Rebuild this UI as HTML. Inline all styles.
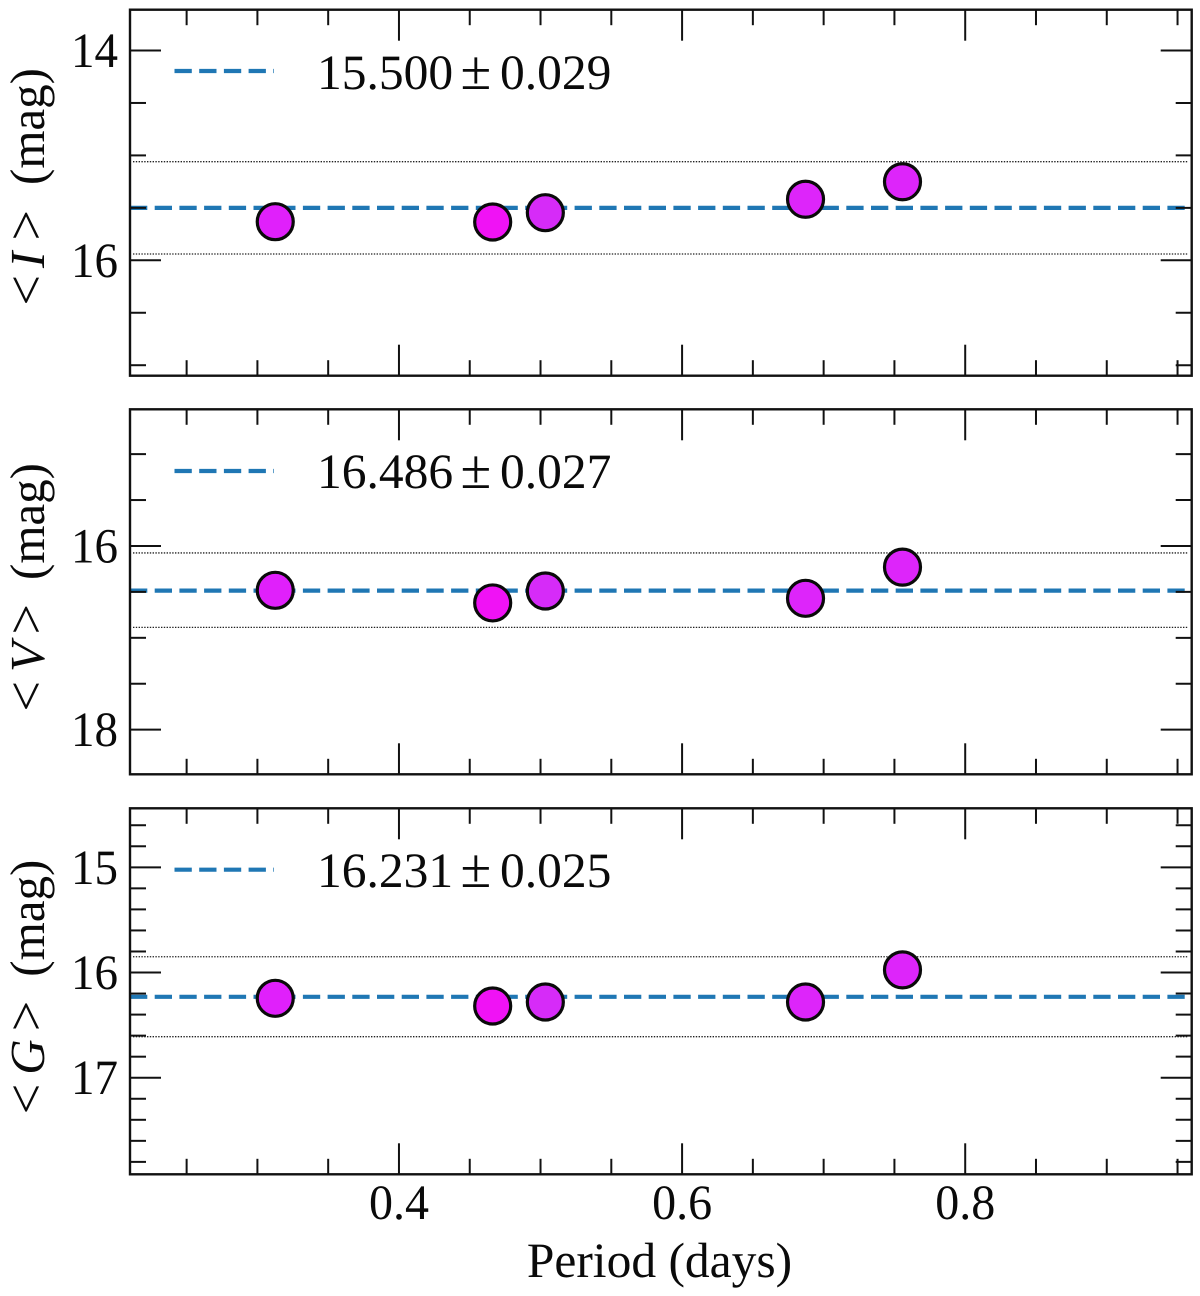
<!DOCTYPE html>
<html lang="en">
<head>
<meta charset="utf-8">
<title>Mean magnitude versus period</title>
<style>
html,body{margin:0;padding:0;background:#fff;width:1200px;height:1296px;overflow:hidden}
svg{display:block;filter:blur(0.35px)}
text{font-family:"Liberation Serif","Times New Roman",serif;fill:#0a0a0a;text-rendering:geometricPrecision}
</style>
</head>
<body>
<svg id="chart" xmlns="http://www.w3.org/2000/svg" width="1200" height="1296" viewBox="0 0 1200 1296"></svg>
<script>
// ---- Data ----
const periods = [0.3126, 0.4662, 0.5034, 0.6872, 0.7557];
const iMags = [15.632, 15.635, 15.546, 15.418, 15.251];
const vMags = [16.483, 16.62, 16.49, 16.57, 16.23];
const gMags = [16.245, 16.318, 16.28, 16.28, 15.975];
const iMean = 15.500, vMean = 16.486, gMean = 16.231;
const iErr = 0.029, vErr = 0.027, gErr = 0.025;
const iBand = [15.06, 15.94];
const vBand = [16.076, 16.886];
const gBand = [15.85, 16.61];
const iDomain = [13.611, 17.10];
const vDomain = [14.512, 18.486];
const gDomain = [14.439, 17.918];
const iMajorTicks = [14, 16];
const vMajorTicks = [16, 18];
const gMajorTicks = [15, 16, 17];
const iMinorTicks = [14.5, 15, 15.5, 16.5, 17];
const vMinorTicks = [15, 15.5, 16.5, 17, 17.5];
const gMinorTicks = [14.6, 14.8, 15.2, 15.4, 15.6, 15.8, 16.2, 16.4, 16.6, 16.8, 17.2, 17.4, 17.6, 17.8];
const xDomain = [0.21, 0.96];
const xMajorTicks = [0.4, 0.6, 0.8];
const xMinorTicks = [0.25, 0.3, 0.35, 0.45, 0.5, 0.55, 0.65, 0.7, 0.75, 0.85, 0.9, 0.95];
const pointColors = ['#e020fb', '#f012f5', '#d62bf8', '#dd25fa', '#dd25fa'];

// ---- Layout ----
const LEFT = 130, RIGHT = 1191.7;
const panels = [
  {key:'i', top:9.7, bottom:375.7, domain:iDomain, major:iMajorTicks, minor:iMinorTicks, mags:iMags, mean:iMean, err:iErr, band:iBand,
   legendY:71, textY:89, band_:'I', labelBottom:304, off:[0,36,65,119]},
  {key:'v', top:409.3, bottom:774.3, domain:vDomain, major:vMajorTicks, minor:vMinorTicks, mags:vMags, mean:vMean, err:vErr, band:vBand,
   legendY:471, textY:488, band_:'V', labelBottom:710, off:[0,38,77,130]},
  {key:'g', top:808.3, bottom:1174.3, domain:gDomain, major:gMajorTicks, minor:gMinorTicks, mags:gMags, mean:gMean, err:gErr, band:gBand,
   legendY:869.7, textY:887, band_:'G', labelBottom:1112.7, off:[0,38,83,136]}
];

const NS = 'http://www.w3.org/2000/svg';
const svg = document.getElementById('chart');
function mk(tag, attrs, parent) {
  const n = document.createElementNS(NS, tag);
  for (const k in attrs) n.setAttribute(k, attrs[k]);
  parent.appendChild(n);
  return n;
}
function xScale(v) {
  return LEFT + (v - xDomain[0]) / (xDomain[1] - xDomain[0]) * (RIGHT - LEFT);
}
function yScaleFor(p) {
  return v => p.top + (v - p.domain[0]) / (p.domain[1] - p.domain[0]) * (p.bottom - p.top);
}
const INK = '#111';

panels.forEach(p => {
  const y = yScaleFor(p);
  const g = mk('g', {}, svg);
  
  

  // dotted band lines
  p.band.forEach(v => {
    const el = mk('line', {x1:133, x2:1188, y1:y(v), y2:y(v), stroke:'#222', 'stroke-width':1.3, 'stroke-dasharray':'1.4 1.4'}, g);
    
    
  });

  // mean line
  const meanLine = mk('line', {x1:xScale(xDomain[0]), x2:1187, y1:y(p.mean), y2:y(p.mean), stroke:'#1f77b4', 'stroke-width':4.2, 'stroke-dasharray':'17.3 7.4'}, g);
  
  

  // ticks on the y axis (both sides)
  [[p.major, 31, true], [p.minor, 16, false]].forEach(([vals, len, isMajor]) => {
    vals.forEach(v => {
      const l = mk('line', {x1:LEFT, x2:LEFT + len, y1:y(v), y2:y(v), stroke:INK, 'stroke-width':2}, g);
      
      
      const r = mk('line', {x1:RIGHT, x2:RIGHT - len, y1:y(v), y2:y(v), stroke:INK, 'stroke-width':2}, g);
      
      
      if (isMajor) {
        const t = mk('text', {x:118, y:y(v) + 16.5, 'text-anchor':'end', 'font-size':49.5, textLength:47, lengthAdjust:'spacingAndGlyphs'}, g);
        t.textContent = String(v);
        
        
      }
    });
  });

  // ticks on the x axis (top and bottom)
  [[xMajorTicks, 31], [xMinorTicks, 15.5]].forEach(([vals, len]) => {
    vals.forEach(v => {
      const x = xScale(v);
      const t = mk('line', {x1:x, x2:x, y1:p.top, y2:p.top + len, stroke:INK, 'stroke-width':2}, g);
      
      
      const b = mk('line', {x1:x, x2:x, y1:p.bottom, y2:p.bottom - len, stroke:INK, 'stroke-width':2}, g);
      
      
    });
  });

  // points
  periods.forEach((per, i) => {
    const c = mk('circle', {cx:xScale(per), cy:y(p.mags[i]), r:18, fill:pointColors[i], stroke:'#0a0a0a', 'stroke-width':3.2}, g);
    
    
  });

  // frame
  const frame = mk('rect', {x:LEFT, y:p.top, width:RIGHT - LEFT, height:p.bottom - p.top, fill:'none', stroke:INK, 'stroke-width':2.4}, g);
  
  

  // legend
  const key = mk('line', {x1:174.5, x2:274, y1:p.legendY, y2:p.legendY, stroke:'#1f77b4', 'stroke-width':4.2, 'stroke-dasharray':'17.3 7.4'}, g);
  
  
  const lt = mk('text', {y:p.textY, 'font-size':49.5}, g);
  
  
  const a = mk('tspan', {x:317}, lt); a.textContent = p.mean.toFixed(3);
  const b = mk('tspan', {x:460.5, 'font-size':56}, lt); b.textContent = '\u00B1';
  const e = mk('tspan', {x:500, 'font-size':49.5}, lt); e.textContent = p.err.toFixed(3);

  // y axis title
  const yt = mk('text', {transform:'translate(44,' + p.labelBottom + ') rotate(-90)', 'font-size':49}, g);
  
  
  const s1 = mk('tspan', {x:p.off[0] - 1.5, 'font-size':54}, yt); s1.textContent = '<';
  const s2 = mk('tspan', {x:p.off[1], 'font-style':'italic', 'font-size':49}, yt); s2.textContent = p.band_;
  const s3 = mk('tspan', {x:p.off[2] - 1.5, 'font-size':54}, yt); s3.textContent = '>';
  const s4 = mk('tspan', {x:p.off[3], 'font-size':49}, yt); s4.textContent = '(mag)';
});

// x tick labels and title on the bottom panel
xMajorTicks.forEach(v => {
  const t = mk('text', {x:xScale(v), y:1219, 'text-anchor':'middle', 'font-size':49.5, textLength:60, lengthAdjust:'spacingAndGlyphs'}, svg);
  t.textContent = v.toFixed(1);
  
  
});
const xt = mk('text', {x:659.5, y:1277, 'text-anchor':'middle', 'font-size':49.5}, svg);
xt.textContent = 'Period (days)';


</script>
</body>
</html>
